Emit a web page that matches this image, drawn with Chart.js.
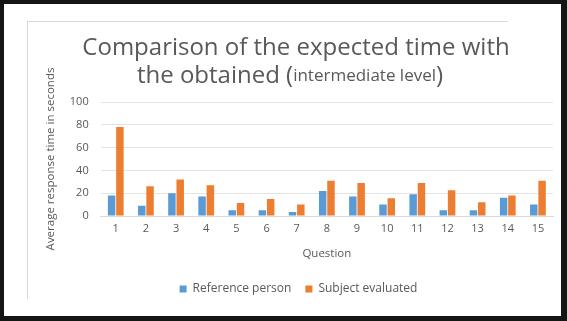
<!DOCTYPE html>
<html>
<head>
<meta charset="utf-8">
<script src="https://cdn.jsdelivr.net/npm/chart.js@4/dist/chart.umd.min.js"></script>
<style>
  html, body { margin: 0; padding: 0; background: #151515; }
  #frame { position: absolute; left: 4px; top: 4px; width: 557px; height: 312px; background: #fff; }
  #edge { position: absolute; left: 27px; top: 21px; width: 480px; height: 277px;
          border-top: 1px solid #d9d9d9; border-left: 1px solid #d9d9d9; }
  #wrap { position: absolute; left: 0; top: 0; width: 567px; height: 321px; }
</style>
</head>
<body>
<div id="frame"></div>
<div id="edge"></div>
<div id="wrap"><canvas id="chart"></canvas></div>
<script>
const questions = ['1','2','3','4','5','6','7','8','9','10','11','12','13','14','15'];
const referencePerson = [18, 9, 20, 17, 5, 5, 3.5, 22, 17, 10, 19, 5, 5, 16, 10];
const subjectEvaluated = [78, 26, 32, 27, 11.5, 15, 10, 31, 29, 15.5, 29, 22.5, 12, 18, 31];
const titleLine1 = 'Comparison of the expected time with';
const titleLine2 = ['the obtained (', 'intermediate level', ')'];

const grey = '#595959';
const font = "'Open Sans', sans-serif";

// title with a smaller font for the part in brackets
const titlePlugin = {
    id: 'mixedTitle',
    afterDraw(chart) {
        const c = chart.ctx;
        c.save();
        c.fillStyle = grey;
        c.textBaseline = 'middle';
        c.textAlign = 'left';
        c.font = '24px ' + font;
        let w = c.measureText(titleLine1).width;
        c.fillText(titleLine1, 296 - w / 2, 48);
        const sizes = [24, 17, 24];
        let total = 0;
        titleLine2.forEach((t, i) => { c.font = sizes[i] + 'px ' + font; total += c.measureText(t).width; });
        let x = 290 - total / 2;
        titleLine2.forEach((t, i) => {
            c.font = sizes[i] + 'px ' + font;
            c.fillText(t, x, 76);
            x += c.measureText(t).width;
        });
        c.restore();
    }
};

new Chart(document.getElementById('chart'), {
    type: 'bar',
    data: {
        labels: questions,
        datasets: [
            {
                label: 'Reference person',
                data: referencePerson,
                backgroundColor: '#5b9bd5',
                barPercentage: 0.9,
                categoryPercentage: 0.55
            },
            {
                label: 'Subject evaluated',
                data: subjectEvaluated,
                backgroundColor: '#ed7d31',
                barPercentage: 0.9,
                categoryPercentage: 0.55
            }
        ]
    },
    plugins: [titlePlugin],
    options: {
        responsive: true,
        maintainAspectRatio: false,
        animation: false,
        layout: { padding: { left: 44, right: 14, top: 102, bottom: 16 } },
        plugins: {
            title: { display: false },
            tooltip: { enabled: false },
            legend: {
                position: 'bottom',
                labels: {
                    color: grey,
                    font: { family: font, size: 12 },
                    usePointStyle: true,
                    pointStyle: 'rect',
                    boxWidth: 7,
                    boxHeight: 7,
                    padding: 14
                }
            }
        },
        scales: {
            x: {
                grid: { display: false, drawTicks: false },
                border: { color: '#d9d9d9' },
                ticks: { color: grey, font: { family: font, size: 11 }, padding: 6 },
                title: { display: true, text: 'Question', color: grey, font: { family: font, size: 11.5 }, padding: { top: 6, bottom: 8 } }
            },
            y: {
                min: 0,
                max: 100,
                ticks: { stepSize: 20, color: grey, font: { family: font, size: 11 }, padding: 12 },
                grid: { color: '#e3e3e3', drawTicks: false },
                border: { display: false },
                title: { display: true, text: 'Average response time in seconds', color: grey, font: { family: font, size: 11.5 }, padding: 0 }
            }
        }
    }
});
</script>
</body>
</html>
